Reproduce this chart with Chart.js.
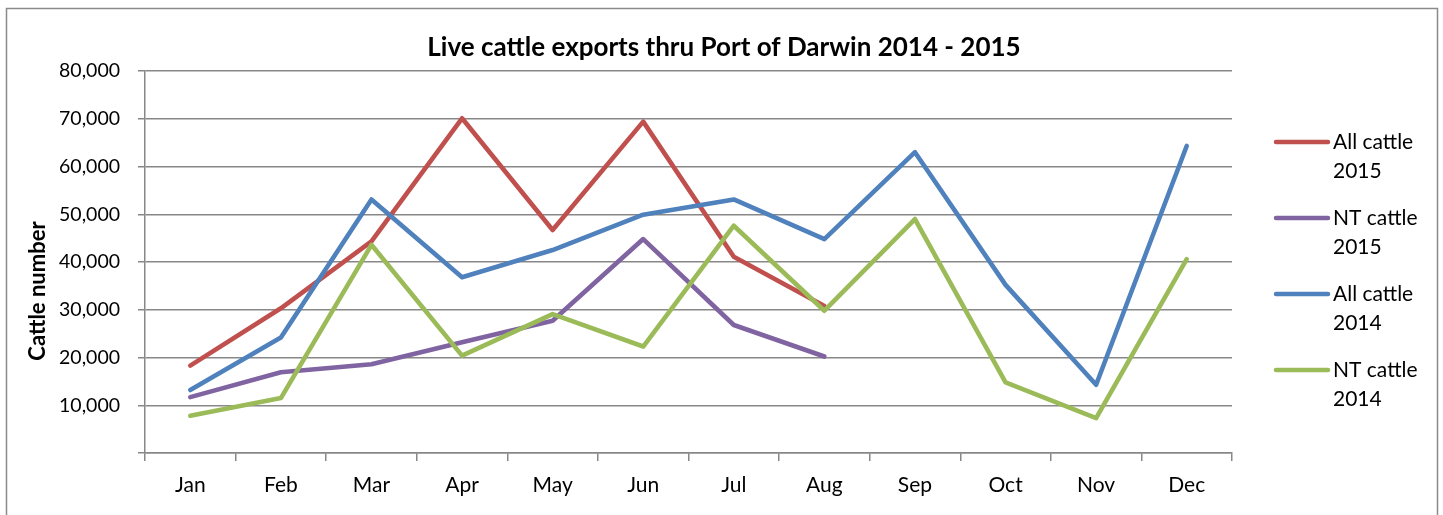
<!DOCTYPE html>
<html>
<head>
<meta charset="utf-8">
<script src="https://cdn.jsdelivr.net/npm/chart.js@4/dist/chart.umd.min.js"></script>
<style>
  html, body { margin: 0; padding: 0; background: #fff; overflow: hidden; }
  #wrap { width: 1443px; height: 515px; }
</style>
</head>
<body>
<div id="wrap"><canvas id="chart" width="1443" height="515"></canvas></div>
<script>
// data
const months = ['Jan', 'Feb', 'Mar', 'Apr', 'May', 'Jun', 'Jul', 'Aug', 'Sep', 'Oct', 'Nov', 'Dec'];
const allCattle2015 = [18300, 30300, 44300, 70100, 46700, 69400, 41100, 30800, null, null, null, null];
const ntCattle2015 = [11700, 16900, 18600, 23200, 27700, 44800, 26800, 20200, null, null, null, null];
const allCattle2014 = [13200, 24200, 53100, 36800, 42500, 49900, 53100, 44800, 63000, 35200, 14300, 64300];
const ntCattle2014 = [7800, 11500, 43600, 20400, 29100, 22300, 47600, 29800, 49000, 14800, 7300, 40600];
const yTicks = [0, 10000, 20000, 30000, 40000, 50000, 60000, 70000, 80000];

const FONT = 'Lato, "Open Sans", sans-serif';
const GRID = '#888888';

// frame, title, axis title and the two-line legend on the right
const extras = {
  id: 'extras',
  beforeDraw(chart) {
    const ctx = chart.ctx;
    ctx.save();
    ctx.strokeStyle = '#8a8a8a';
    ctx.lineWidth = 1.5;
    ctx.strokeRect(6.5, 8.5, 1431, 600);
    ctx.restore();
  },
  afterDraw(chart) {
    const ctx = chart.ctx;
    ctx.save();
    ctx.fillStyle = '#000';
    ctx.font = 'bold 26px ' + FONT;
    ctx.textAlign = 'center';
    ctx.textBaseline = 'middle';
    ctx.fillText('Live cattle exports thru Port of Darwin 2014 - 2015', 724, 48);

    ctx.save();
    ctx.translate(38, 291);
    ctx.rotate(-Math.PI / 2);
    ctx.font = 'bold 22px ' + FONT;
    ctx.fillText('Cattle number', 0, 0);
    ctx.restore();

    ctx.font = '21px ' + FONT;
    ctx.textAlign = 'left';
    chart.data.datasets.forEach((ds, i) => {
      const y = 142 + i * 76;
      ctx.strokeStyle = ds.borderColor;
      ctx.lineWidth = 4.5;
      ctx.lineCap = 'round';
      ctx.beginPath();
      ctx.moveTo(1276, y);
      ctx.lineTo(1328, y);
      ctx.stroke();
      ds.label.split('\n').forEach((line, j) => {
        ctx.fillText(line, 1333, y + j * 29.5);
      });
    });
    ctx.restore();
  }
};

new Chart(document.getElementById('chart'), {
  type: 'line',
  data: {
    labels: months,
    datasets: [
      { label: 'All cattle\n2015', data: allCattle2015, borderColor: '#C0504D', order: 2 },
      { label: 'NT cattle\n2015', data: ntCattle2015, borderColor: '#8064A2', order: 3 },
      { label: 'All cattle\n2014', data: allCattle2014, borderColor: '#4F81BD', order: 0 },
      { label: 'NT cattle\n2014', data: ntCattle2014, borderColor: '#9BBB59', order: 1 },
    ],
  },
  options: {
    responsive: false,
    animation: false,
    layout: { padding: { top: 71, right: 211, bottom: 0, left: 0 } },
    elements: {
      line: { borderWidth: 4.6, tension: 0, borderCapStyle: 'round', borderJoinStyle: 'round', fill: false },
      point: { radius: 0, hoverRadius: 0 },
    },
    plugins: {
      legend: { display: false },
      title: { display: false },
      tooltip: { enabled: false },
    },
    scales: {
      x: {
        offset: true,
        afterFit: (s) => { s.height = 62; },
        grid: { offset: true, drawOnChartArea: false, drawTicks: true, tickLength: 8, color: GRID, lineWidth: 1.5 },
        border: { display: true, color: GRID, width: 1.5 },
        ticks: { color: '#000', font: { family: FONT, size: 21 }, padding: 12, maxRotation: 0 },
      },
      y: {
        min: 0,
        max: 80000,
        afterFit: (s) => { s.width = 145; },
        afterBuildTicks: (s) => { s.ticks = yTicks.map(v => ({ value: v })); },
        grid: { color: GRID, lineWidth: 1.5, tickLength: 7 },
        border: { display: true, color: GRID, width: 1.5 },
        ticks: {
          color: '#000',
          font: { family: FONT, size: 19.5 },
          padding: 18,
          callback: (v) => v === 0 ? '' : v.toLocaleString('en-US'),
        },
      },
    },
  },
  plugins: [extras],
});
</script>
</body>
</html>
